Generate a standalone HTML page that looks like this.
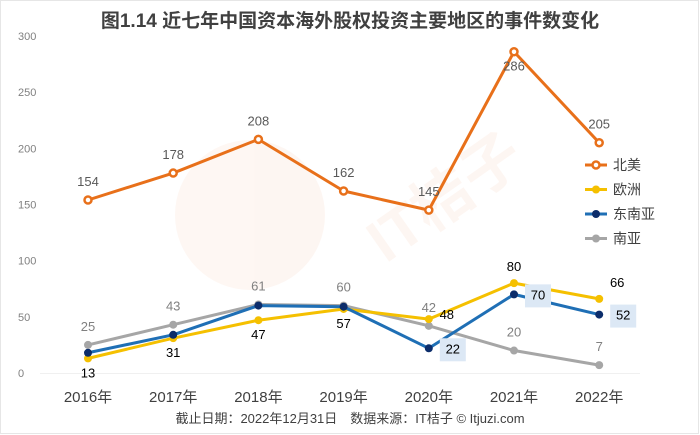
<!DOCTYPE html>
<html><head><meta charset="utf-8"><style>
body{margin:0;background:#fff;}
#wrap{position:relative;width:700px;height:435px;overflow:hidden;background:#fff;font-family:"Liberation Sans","Noto Sans CJK SC",sans-serif;}
svg text{font-family:"Liberation Sans","Noto Sans CJK SC",sans-serif;}
</style></head><body>
<div id="wrap">
<svg id="chart" width="700" height="435">
<rect x="0.5" y="0.5" width="698" height="433" fill="none" stroke="#e6e6e6"/>
<text x="350" y="27" text-anchor="middle" font-size="19" font-weight="bold" fill="#404040">图1.14 近七年中国资本海外股权投资主要地区的事件数变化</text>
<g id="watermark" opacity="0.05">
<circle cx="250" cy="215" r="75" fill="#e8601c"/>
<text x="350" y="250" font-size="60" font-weight="bold" fill="#e8601c" transform="rotate(-35 390 200)">IT桔子</text>
</g>
<g id="yaxis"></g>
<line x1="40" y1="373.5" x2="640" y2="373.5" stroke="#f0f0f0"/>
<g id="xaxis"></g>
<g id="series"></g>
<g id="legend"></g>
<text x="350" y="423" text-anchor="middle" font-size="13" fill="#404040">截止日期：2022年12月31日　数据来源：IT桔子 © Itjuzi.com</text>
</svg>
</div>
<script>
const categories=["2016年","2017年","2018年","2019年","2020年","2021年","2022年"];
const northAmerica=[154,178,208,162,145,286,205];
const europe=[13,31,47,57,48,80,66];
const southeastAsia=[18,34,60,59,22,70,52];
const southAsia=[25,43,61,60,42,20,7];
const yTicks=[0,50,100,150,200,250,300];
const NS="http://www.w3.org/2000/svg";
function x(i){return 88+i*85.2;}
function y(v){return 373-v*(337/300);}
function mk(tag,attrs,parent,text){const e=document.createElementNS(NS,tag);for(const k in attrs)e.setAttribute(k,attrs[k]);if(text!==undefined)e.textContent=text;parent.appendChild(e);return e;}
const ya=document.getElementById('yaxis');
yTicks.forEach(t=>{const e=mk('text',{x:18,y:y(t)+4,'font-size':11,fill:'#808080'},ya,String(t));

});
const xa=document.getElementById('xaxis');
categories.forEach((c,i)=>{const e=mk('text',{x:x(i),y:402,'text-anchor':'middle','font-size':15,fill:'#404040'},xa,c);

});
const series=[
 {name:'north-america',label:'北美',data:northAmerica,color:'#e8701a',marker:'#fff',hollow:true,lc:'#595959',dy:[-14,-14,-14,-14,-14,15,-14],dx:0,box:false},
 {name:'europe',label:'欧洲',data:europe,color:'#f5c000',marker:'#f5c000',lc:'#000',dy:[15,15,15,15,0,-12,-12],dx:[0,0,0,0,18,0,18],box:false},
 {name:'southeast-asia',label:'东南亚',data:southeastAsia,color:'#1f6fb5',marker:'#0c2d6b',lc:'#000',labels:[null,null,null,null,22,70,52],box:true},
 {name:'south-asia',label:'南亚',data:southAsia,color:'#a6a6a6',marker:'#a6a6a6',lc:'#808080',dy:-14,dx:0,box:false}
];
const sg=document.getElementById('series');
const order=[3,1,2,0];
order.forEach(si=>{const s=series[si];
 const g=mk('g',{},sg);
 
 
 const pts=s.data.map((v,i)=>x(i)+','+y(v)).join(' ');
 const pl=mk('polyline',{points:pts,fill:'none',stroke:s.color,'stroke-width':3,'stroke-linejoin':'round'},g);
 
 
 s.data.forEach((v,i)=>{const c=mk('circle',{cx:x(i),cy:y(v),r:s.hollow?3.5:4,fill:s.marker,stroke:s.hollow?s.color:'none','stroke-width':2.5},g);
  
  
  let lx,ly,txt=String(v);
  if(s.box){ if(s.labels[i]===null)return; lx=x(i)+24; ly=y(v)+5;
   const r=mk('rect',{x:lx-13,y:ly-15,width:26,height:23,fill:'#dce8f5'},g);
   
   
  } else {
   const dy=Array.isArray(s.dy)?s.dy[i]:s.dy; const dx=Array.isArray(s.dx)?s.dx[i]:s.dx;
   lx=x(i)+dx; ly=y(v)+dy+(dy>0?4:0);
  }
  const t=mk('text',{x:lx,y:ly,'text-anchor':'middle','font-size':13,fill:s.lc},g,txt);
  
  
 });
});
const lg=document.getElementById('legend');
series.forEach((s,i)=>{const yy=165+i*24.5;
 const g=mk('g',{},lg);
 
 
 mk('line',{x1:585,y1:yy,x2:607,y2:yy,stroke:s.color,'stroke-width':3},g);
 mk('circle',{cx:596,cy:yy,r:s.hollow?3.5:4,fill:s.marker,stroke:s.hollow?s.color:'none','stroke-width':2.5},g);
 mk('text',{x:613,y:yy+5,'font-size':14,fill:'#404040'},g,s.label);
});
</script>
</body></html>
